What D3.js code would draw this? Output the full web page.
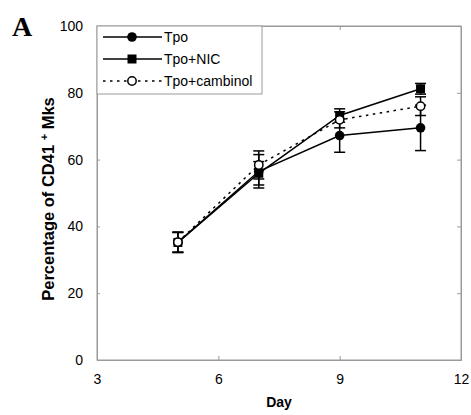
<!DOCTYPE html>
<html>
<head>
<meta charset="utf-8">
<script src="https://cdn.jsdelivr.net/npm/d3@7"></script>
<style>
  body { margin: 0; background: #fff; }
  svg { display: block; font-family: "Liberation Sans", Arial, sans-serif; }
</style>
</head>
<body>
<svg id="chart" width="471" height="415"></svg>
<script>
// Days sampled
const days = [5, 7, 9, 11];

// Percentage of CD41+ megakaryocytes, mean and error (SD)
const tpoMean = [35.2, 56.5, 67.2, 69.5];
const tpoErr = [3.0, 5.0, 5.0, 6.8];
const nicMean = [35.2, 55.9, 73.2, 81.2];
const nicErr = [3.0, 3.5, 2.0, 1.6];
const cambMean = [35.3, 58.4, 71.9, 76.0];
const cambErr = [3.0, 4.2, 2.4, 2.8];

const xTicks = [3, 6, 9, 12];
const yTicks = [0, 20, 40, 60, 80, 100];

const series = [
  { name: "Tpo", mean: tpoMean, err: tpoErr, marker: "circle", fill: "#000", dash: null },
  { name: "Tpo+NIC", mean: nicMean, err: nicErr, marker: "square", fill: "#000", dash: null },
  { name: "Tpo+cambinol", mean: cambMean, err: cambErr, marker: "circle", fill: "#fff", dash: "2.5,4.5" }
];

const svg = d3.select("#chart");
const margin = { left: 97, right: 10, top: 26, bottom: 55 };
const W = 471, H = 415;
const x = d3.scaleLinear().domain([3, 12]).range([margin.left, W - margin.right]);
const y = d3.scaleLinear().domain([0, 100]).range([H - margin.bottom, margin.top]);

const frameColor = "#9a9a9a";
const sans = "'Liberation Sans', Arial, sans-serif";

// Plot frame
svg.append("rect")
  .attr("x", x(3)).attr("y", y(100))
  .attr("width", x(12) - x(3)).attr("height", y(0) - y(100))
  .attr("fill", "none").attr("stroke", frameColor).attr("stroke-width", 1);

// Axes with inward ticks
const axLeft = svg.append("g").attr("transform", `translate(${x(3)},0)`)
  .call(d3.axisLeft(y).tickValues(yTicks).tickSize(-3).tickPadding(14));
const axBottom = svg.append("g").attr("transform", `translate(0,${y(0)})`)
  .call(d3.axisBottom(x).tickValues(xTicks).tickSize(-4).tickPadding(14));
const axRight = svg.append("g").attr("transform", `translate(${x(12)},0)`)
  .call(d3.axisRight(y).tickValues(yTicks.slice(1, -1)).tickSize(-4).tickFormat(""));
const axTop = svg.append("g").attr("transform", `translate(0,${y(100)})`)
  .call(d3.axisTop(x).tickValues([6, 9]).tickSize(-4).tickFormat(""));

[axLeft, axBottom, axRight, axTop].forEach(g => {
  g.attr("font-family", sans).attr("font-size", 14);
  g.select(".domain").attr("stroke", frameColor);
  g.selectAll(".tick line").attr("stroke", frameColor);
  g.selectAll(".tick text").attr("fill", "#000");
});
axBottom.selectAll(".tick text").attr("dy", "0.71em");

// Axis titles
svg.append("text")
  .attr("x", x(7.5)).attr("y", 407)
  .attr("text-anchor", "middle").attr("font-size", 14).attr("font-weight", "bold")
  .attr("font-family", sans)
  .text("Day");

const yl = svg.append("text")
  .attr("transform", `translate(54,${y(50) + 6}) rotate(-90)`)
  .attr("text-anchor", "middle").attr("font-size", 16.5).attr("font-weight", "bold")
  .attr("font-family", sans);
yl.append("tspan").text("Percentage of CD41 ");
yl.append("tspan").attr("baseline-shift", "super").attr("font-size", 11).text("+");
yl.append("tspan").text(" Mks");

// Panel letter
svg.append("text")
  .attr("x", 12).attr("y", 36)
  .attr("font-family", "'Liberation Serif', 'Times New Roman', serif")
  .attr("font-size", 28).attr("font-weight", "bold")
  .text("A");

function drawMarker(g, s, cx, cy) {
  if (s.marker === "square") {
    g.append("rect").attr("x", cx - 4.5).attr("y", cy - 4.5)
      .attr("width", 9).attr("height", 9).attr("fill", s.fill);
  } else if (s.fill === "#fff") {
    g.append("circle").attr("cx", cx).attr("cy", cy).attr("r", 4.2)
      .attr("fill", "#fff").attr("stroke", "#000").attr("stroke-width", 1.5);
  } else {
    g.append("circle").attr("cx", cx).attr("cy", cy).attr("r", 4.8).attr("fill", "#000");
  }
}

const line = d3.line().x((d, i) => x(days[i])).y(d => y(d));

// Lines
series.forEach(s => {
  svg.append("path")
    .datum(s.mean)
    .attr("d", line)
    .attr("fill", "none").attr("stroke", "#000").attr("stroke-width", 1.5)
    .attr("stroke-dasharray", s.dash);
});

// Error bars
series.forEach(s => {
  const g = svg.append("g");
  days.forEach((d, i) => {
    const cx = x(d);
    const top = y(s.mean[i] + s.err[i]);
    const bot = y(s.mean[i] - s.err[i]);
    g.append("line").attr("x1", cx).attr("x2", cx).attr("y1", top).attr("y2", bot)
      .attr("stroke", "#000").attr("stroke-width", 1.5);
    [top, bot].forEach(yy => g.append("line")
      .attr("x1", cx - 5.5).attr("x2", cx + 5.5).attr("y1", yy).attr("y2", yy)
      .attr("stroke", "#000").attr("stroke-width", 1.5));
  });
});

// Markers
series.forEach(s => {
  const g = svg.append("g");
  days.forEach((d, i) => drawMarker(g, s, x(d), y(s.mean[i])));
});

// Legend
const lg = svg.append("g");
lg.append("rect")
  .attr("x", x(3)).attr("y", y(100))
  .attr("width", 165).attr("height", 68)
  .attr("fill", "#fff").attr("stroke", frameColor).attr("stroke-width", 1);
series.forEach((s, i) => {
  const ly = 37 + i * 22;
  lg.append("line").attr("x1", 103).attr("x2", 162).attr("y1", ly).attr("y2", ly)
    .attr("stroke", "#000").attr("stroke-width", 1.5).attr("stroke-dasharray", s.dash);
  drawMarker(lg, s, 132, ly);
  lg.append("text").attr("x", 164).attr("y", ly).attr("dy", "0.35em")
    .attr("font-family", sans).attr("font-size", 14).text(s.name);
});
</script>
</body>
</html>
